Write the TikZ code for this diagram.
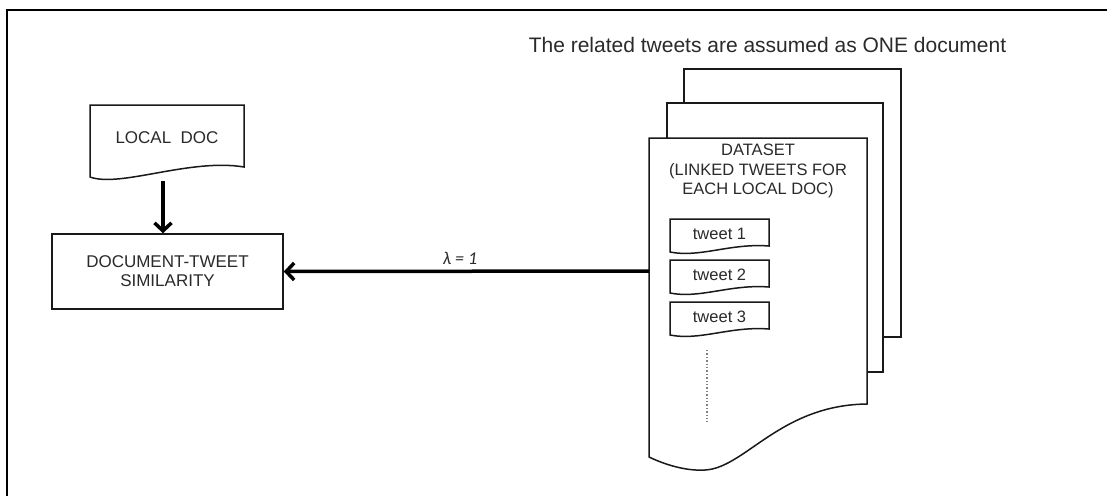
\documentclass[tikz,border=0pt]{standalone}
\usepackage{fontspec}
\setmainfont{Liberation Sans}
\newfontfamily\lamfont{Carlito}
\usetikzlibrary{arrows.meta}
\definecolor{ink}{HTML}{2A2A2A}
\begin{document}
\begin{tikzpicture}[x=1pt,y=-1pt,
  outline/.style={draw=black!90, line width=1.5pt, fill=white},
  txt/.style={text=ink, align=center, inner sep=0pt},
  boxfont/.style={font=\fontsize{17}{19}\selectfont},
  flow/.style={line width=3.5pt, -{Straight Barb[length=8pt,width=17pt]}}
]
\useasboundingbox (0,0) rectangle (1107,496);

% frame
\draw[line width=2.2pt] (1107,10) -- (7,10) -- (7,496);

% heading
\node[txt, anchor=base, font=\fontsize{21}{24}\selectfont] (title) at (767.5,52)
  {The related tweets are assumed as ONE document};

% local document (wavy bottom)
\draw[outline] (90,105) -- (244,105) -- (244,167)
  .. controls (190,158) and (120,188) .. (90,177) -- cycle;
\node[txt, boxfont] (local) at (167,137.5) {LOCAL\ \ DOC};
\coordinate (localtip) at (163,181);

% similarity box
\node[outline, txt, boxfont, minimum width=231pt, minimum height=75pt] (sim)
  at (167.5,271.5) {DOCUMENT-TWEET\\SIMILARITY};

% stack of pages
\draw[outline] (684,69) rectangle (901,337);
\draw[outline] (667,103) rectangle (883,372);
\draw[outline] (649,138) -- (867,138) -- (867,404)
  .. controls (780,405) and (745,468) .. (705,470)
  .. controls (690,471) and (670,467) .. (649,457) -- cycle;
\node[minimum width=218pt, minimum height=266pt, inner sep=0pt] (page) at (758,271) {};
\node[txt, font=\fontsize{16.5}{19.5}\selectfont] (dataset) at (758,171)
  {DATASET\\(LINKED TWEETS FOR\\EACH LOCAL DOC)};

% tweets
\foreach \i/\t in {1/219, 2/260, 3/302} {
  \draw[outline] (670,\t) -- (769,\t) -- (769,\t+27)
    .. controls (730,\t+24) and (700,\t+39) .. (670,\t+33) -- cycle;
  \node[txt, font=\fontsize{16.5}{19}\selectfont] (tweet\i) at (719.5,\t+14.5) {tweet \i};
}
\draw[gray, line width=1.4pt, dash pattern=on 1.4pt off 2pt] (707,350) -- (707,422);

% connectors
\draw[flow] (localtip) -- (localtip |- sim.north);
\draw[flow] (page.west) -- (sim.east)
  node[pos=0.517, above=5pt, txt, font=\lamfont\itshape\fontsize{18}{20}\selectfont] (lambda) {λ = 1};
\end{tikzpicture}
\end{document}
